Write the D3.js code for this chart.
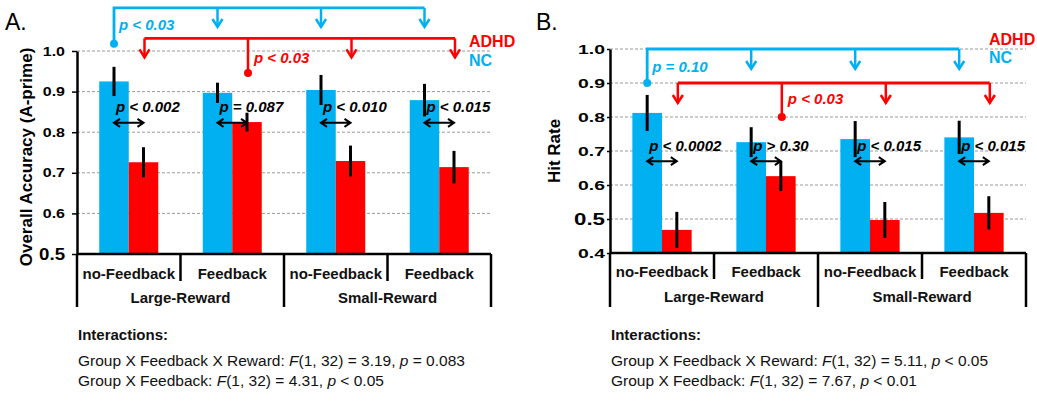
<!DOCTYPE html>
<html>
<head>
<meta charset="utf-8">
<script src="https://cdn.jsdelivr.net/npm/d3@7"></script>
<style>
  body { margin: 0; background: #fff; }
  svg { display: block; }
  text { font-family: Arial, "Liberation Sans", sans-serif; }
</style>
</head>
<body>
<svg id="fig" width="1037" height="403"></svg>
<script>
// ---- data ----
const conditions = ["no-Feedback", "Feedback", "no-Feedback", "Feedback"];
const rewards = ["Large-Reward", "Small-Reward"];
const groups = ["NC", "ADHD"];

// Panel A: overall accuracy (A-prime)
const accTicks = [0.5, 0.6, 0.7, 0.8, 0.9, 1.0];
const accNC = [0.925, 0.897, 0.904, 0.879];
const accADHD = [0.726, 0.825, 0.729, 0.714];
const accErrNC = [0.036, 0.025, 0.037, 0.040];
const accErrADHD = [0.037, 0.023, 0.038, 0.040];
const accPairP = ["< 0.002", "= 0.087", "< 0.010", "< 0.015"];
const accNCTrend = "< 0.03";
const accADHDTrend = "< 0.03";
const accInteractions = [
  ["Group X Feedback X Reward: ", "3.19", "= 0.083"],
  ["Group X Feedback: ", "4.31", "< 0.05"]
];

// Panel B: hit rate
const hitTicks = [0.4, 0.5, 0.6, 0.7, 0.8, 0.9, 1.0];
const hitNC = [0.812, 0.726, 0.735, 0.740];
const hitADHD = [0.468, 0.626, 0.497, 0.518];
const hitErrNC = [0.053, 0.044, 0.053, 0.049];
const hitErrADHD = [0.053, 0.044, 0.053, 0.049];
const hitPairP = ["< 0.0002", "> 0.30", "< 0.015", "< 0.015"];
const hitNCTrend = "= 0.10";
const hitADHDTrend = "< 0.03";
const hitInteractions = [
  ["Group X Feedback X Reward: ", "5.11", "< 0.05"],
  ["Group X Feedback: ", "7.67", "< 0.01"]
];

// ---- styling ----
const BLUE = "#00B0F0";
const RED = "#FF0000";
const colour = { NC: BLUE, ADHD: RED };

const svg = d3.select("#fig");

function vArrowDown(g, x, yTip, col) {
  g.append("path")
    .attr("d", `M${x - 5},${yTip - 8} L${x},${yTip} L${x + 5},${yTip - 8}`)
    .attr("fill", "none").attr("stroke", col).attr("stroke-width", 2.5)
    .attr("stroke-linejoin", "miter");
}

function pText(g, x, y, rest, col, size) {
  const t = g.append("text").attr("x", x).attr("y", y)
    .attr("fill", col).attr("font-size", size)
    .attr("font-weight", "bold").attr("font-style", "italic");
  t.append("tspan").text("p ");
  t.append("tspan").text(rest);
  return t;
}

function drawPanel(o) {
  const g = svg.append("g");
  const y = d3.scaleLinear().domain([o.ticks[0], o.ticks[o.ticks.length - 1]])
    .range([o.yBottom, o.yTop]);
  const xCat = d3.scaleBand().domain(d3.range(conditions.length))
    .range([o.x0, o.x1]).padding(0);
  const cw = xCat.bandwidth();
  const span = cw * 0.57;
  const xGrp = d3.scaleBand().domain(groups)
    .range([(cw - span) / 2, (cw + span) / 2]).padding(0);
  const cx = (i, grp) => xCat(i) + xGrp(grp) + xGrp.bandwidth() / 2;

  // dashed gridlines
  g.append("g").selectAll("line")
    .data(o.ticks.slice(1))
    .join("line")
    .attr("x1", o.x0).attr("x2", o.x1)
    .attr("y1", d => y(d)).attr("y2", d => y(d))
    .attr("stroke", "#9a9a9a").attr("stroke-width", 1)
    .attr("stroke-dasharray", "3,2");

  // bars
  const rows = [];
  conditions.forEach((c, i) => {
    rows.push({ i, grp: "NC", v: o.nc[i], e: o.errNC[i] });
    rows.push({ i, grp: "ADHD", v: o.adhd[i], e: o.errADHD[i] });
  });
  g.append("g").selectAll("rect")
    .data(rows).join("rect")
    .attr("x", d => xCat(d.i) + xGrp(d.grp))
    .attr("width", xGrp.bandwidth())
    .attr("y", d => y(d.v))
    .attr("height", d => y(o.ticks[0]) - y(d.v))
    .attr("fill", d => colour[d.grp]);

  // error bars
  g.append("g").selectAll("line")
    .data(rows).join("line")
    .attr("x1", d => cx(d.i, d.grp)).attr("x2", d => cx(d.i, d.grp))
    .attr("y1", d => y(d.v + d.e)).attr("y2", d => y(d.v - d.e))
    .attr("stroke", "#000").attr("stroke-width", 3);

  // y axis
  const ax = g.append("g").attr("transform", `translate(${o.x0},0)`)
    .call(d3.axisLeft(y).tickValues(o.ticks).tickSize(o.tickLen).tickSizeOuter(0)
      .tickPadding(o.tickPad).tickFormat(d3.format(".1f")));
  ax.select(".domain").attr("stroke", "#000").attr("stroke-width", 2.5);
  ax.selectAll(".tick line").attr("stroke", "#000").attr("stroke-width", 1.5);
  ax.selectAll(".tick text").each(function (d) {
    const big = Math.abs(d - 0.5) < 1e-9;
    const sx = big ? o.bigStretch : o.tickStretch;
    const t = d3.select(this);
    const x = +t.attr("x");
    t.attr("font-family", "Arial, 'Liberation Sans', sans-serif")
      .attr("font-weight", "bold").attr("fill", "#000")
      .attr("font-size", big ? 16.5 : 12.5)
      .attr("x", x / sx)
      .attr("transform", `scale(${sx},1)`);
  });

  // x axis line and category separators
  const yb = y(o.ticks[0]);
  g.append("line").attr("x1", o.x0).attr("x2", o.x1).attr("y1", yb).attr("y2", yb)
    .attr("stroke", "#000").attr("stroke-width", 2.5);
  const seps = d3.range(conditions.length + 1);
  g.append("g").selectAll("line").data(seps).join("line")
    .attr("x1", i => i < conditions.length ? xCat(i) : o.x1)
    .attr("x2", i => i < conditions.length ? xCat(i) : o.x1)
    .attr("y1", yb)
    .attr("y2", i => (i % 2 === 0) ? o.longSep : o.shortSep)
    .attr("stroke", "#000").attr("stroke-width", 2.5);

  g.append("g").selectAll("text").data(conditions).join("text")
    .attr("x", (d, i) => xCat(i) + cw / 2).attr("y", o.catY)
    .attr("text-anchor", "middle").attr("font-size", 15).attr("font-weight", "bold")
    .attr("fill", "#111").text(d => d);
  g.append("g").selectAll("text").data(rewards).join("text")
    .attr("x", (d, i) => xCat(i * 2) + cw).attr("y", o.rewY)
    .attr("text-anchor", "middle").attr("font-size", 15).attr("font-weight", "bold")
    .attr("fill", "#111").text(d => d);

  // y-axis title
  g.append("text")
    .attr("transform", `translate(${o.titleX},${o.titleY}) rotate(-90)`)
    .attr("text-anchor", "middle").attr("font-size", 17).attr("font-weight", "bold")
    .attr("fill", "#000").text(o.title);

  // panel letter
  g.append("text").attr("x", o.letterX).attr("y", 30)
    .attr("font-size", 23).attr("fill", "#000").text(o.letter);

  // pairwise NC vs ADHD comparisons
  const pg = g.append("g");
  conditions.forEach((c, i) => {
    const xa = cx(i, "NC"), xb = cx(i, "ADHD");
    const ay = y(o.pairArrowV);
    pg.append("path")
      .attr("d", `M${xa},${ay} L${xb},${ay} M${xa + 6},${ay - 4} L${xa},${ay} L${xa + 6},${ay + 4} M${xb - 6},${ay - 4} L${xb},${ay} L${xb - 6},${ay + 4}`)
      .attr("fill", "none").attr("stroke", "#000").attr("stroke-width", 2);
    pText(pg, xa + 2, ay - o.pairTextGap, o.pairP[i], "#000", 15);
  });

  // NC trend bracket: no-Feedback Large-Reward vs the other conditions
  const bg = g.append("g");
  const ncLine = y(o.ncLineV), ncDot = y(o.ncDotV);
  const ncXs = d3.range(conditions.length).map(i => cx(i, "NC"));
  bg.append("path")
    .attr("d", `M${ncXs[0]},${ncDot} L${ncXs[0]},${ncLine} L${ncXs[3]},${ncLine}`)
    .attr("fill", "none").attr("stroke", BLUE).attr("stroke-width", 2.8);
  bg.append("circle").attr("cx", ncXs[0]).attr("cy", ncDot).attr("r", 4).attr("fill", BLUE);
  [1, 2, 3].forEach(i => {
    bg.append("line").attr("x1", ncXs[i]).attr("x2", ncXs[i])
      .attr("y1", ncLine).attr("y2", ncLine + o.legLen)
      .attr("stroke", BLUE).attr("stroke-width", 2.5);
    vArrowDown(bg, ncXs[i], ncLine + o.legLen, BLUE);
  });
  pText(bg, ncXs[0] + 5, ncLine + o.ncTextDy, o.ncTrend, BLUE, 15);

  // ADHD trend bracket: Feedback Large-Reward vs the other conditions
  const adLine = y(o.adLineV), adDot = y(o.adDotV);
  const adXs = d3.range(conditions.length).map(i => cx(i, "ADHD") + 1);
  bg.append("path")
    .attr("d", `M${adXs[0]},${adLine} L${adXs[3]},${adLine}`)
    .attr("fill", "none").attr("stroke", RED).attr("stroke-width", 2.8);
  bg.append("line").attr("x1", adXs[1]).attr("x2", adXs[1])
    .attr("y1", adLine).attr("y2", adDot).attr("stroke", RED).attr("stroke-width", 2.5);
  bg.append("circle").attr("cx", adXs[1]).attr("cy", adDot).attr("r", 4).attr("fill", RED);
  [0, 2, 3].forEach(i => {
    bg.append("line").attr("x1", adXs[i]).attr("x2", adXs[i])
      .attr("y1", adLine).attr("y2", adLine + o.legLen)
      .attr("stroke", RED).attr("stroke-width", 2.5);
    vArrowDown(bg, adXs[i], adLine + o.legLen, RED);
  });
  pText(bg, adXs[1] + 6, adLine + o.adTextDy, o.adTrend, RED, 15);

  // legend
  g.append("text").attr("x", o.legX).attr("y", o.legY1).attr("font-size", 16)
    .attr("font-weight", "bold").attr("fill", RED).text("ADHD");
  g.append("text").attr("x", o.legX).attr("y", o.legY2).attr("font-size", 16)
    .attr("font-weight", "bold").attr("fill", BLUE).text("NC");

  // interaction statistics
  g.append("text").attr("x", o.x0 + 1).attr("y", 340).attr("font-size", 15)
    .attr("font-weight", "bold").attr("fill", "#111").text("Interactions:");
  o.inter.forEach((r, k) => {
    const t = g.append("text").attr("x", o.x0 + 1).attr("y", 366 + k * 20)
      .attr("font-size", 15.5).attr("fill", "#111");
    t.append("tspan").text(r[0]);
    t.append("tspan").attr("font-style", "italic").text("F");
    t.append("tspan").text(`(1, 32) = ${r[1]}, `);
    t.append("tspan").attr("font-style", "italic").text("p");
    t.append("tspan").text(` ${r[2]}`);
  });
}

drawPanel({
  letter: "A.", letterX: 5,
  title: "Overall Accuracy (A-prime)", titleX: 32, titleY: 157,
  ticks: accTicks, nc: accNC, adhd: accADHD, errNC: accErrNC, errADHD: accErrADHD,
  pairP: accPairP, ncTrend: accNCTrend, adTrend: accADHDTrend, inter: accInteractions,
  x0: 77, x1: 491, yTop: 51, yBottom: 254, tickLen: 5, tickPad: 7,
  tickStretch: 1.28, bigStretch: 1.13,
  longSep: 307, shortSep: 281, catY: 279, rewY: 303,
  pairArrowV: 0.823, pairTextGap: 11,
  ncLineV: 1.106, ncDotV: 1.018, ncTextDy: 22,
  adLineV: 1.031, adDotV: 0.946, adTextDy: 25,
  legLen: 19, legX: 469, legY1: 47, legY2: 66
});

drawPanel({
  letter: "B.", letterX: 536,
  title: "Hit Rate", titleX: 560, titleY: 151,
  ticks: hitTicks, nc: hitNC, adhd: hitADHD, errNC: hitErrNC, errADHD: hitErrADHD,
  pairP: hitPairP, ncTrend: hitNCTrend, adTrend: hitADHDTrend, inter: hitInteractions,
  x0: 610, x1: 1026, yTop: 49, yBottom: 253, tickLen: 3, tickPad: 2,
  tickStretch: 1.55, bigStretch: 1.35,
  longSep: 307, shortSep: 279, catY: 277, rewY: 302,
  pairArrowV: 0.67, pairTextGap: 10,
  ncLineV: 1.0, ncDotV: 0.9, ncTextDy: 23,
  adLineV: 0.9, adDotV: 0.8, adTextDy: 21,
  legLen: 20, legX: 989, legY1: 45, legY2: 63
});
</script>
</body>
</html>
